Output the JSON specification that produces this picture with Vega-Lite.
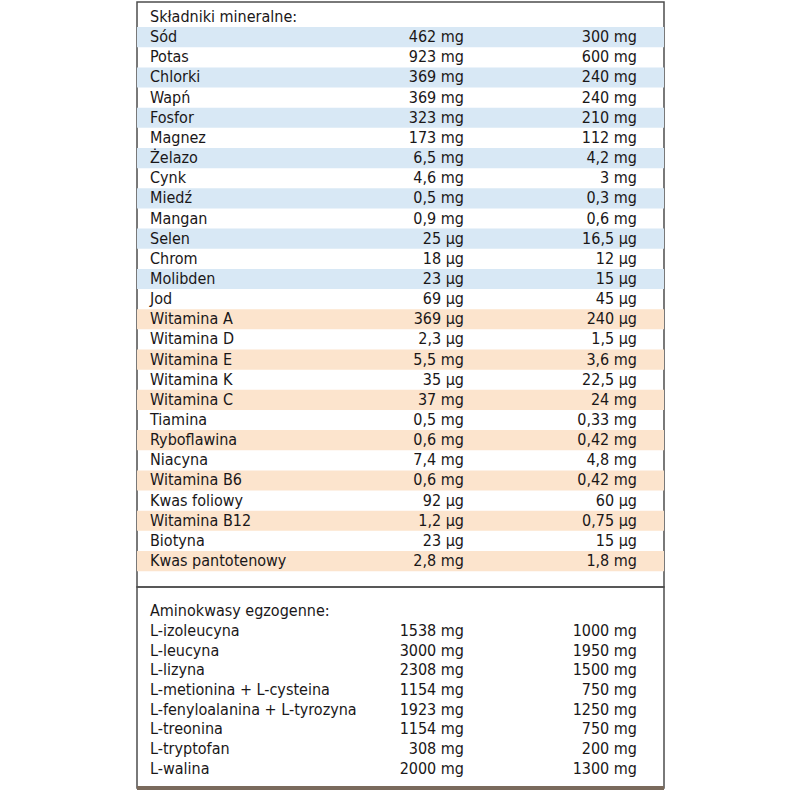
{
  "$schema": "https://vega.github.io/schema/vega-lite/v6.json",
  "padding": {"left": 134, "top": 1, "right": 0, "bottom": 0},
  "background": "white",
  "spacing": 0,
  "bounds": "flush",
  "config": {
    "view": {"stroke": "#4d4d4d", "strokeWidth": 1.5},
    "concat": {"spacing": 0},
    "text": {"font": "DejaVu Sans Condensed, DejaVu Sans, sans-serif", "fontSize": 16, "fill": "#1a1718", "baseline": "middle"}
  },
  "datasets": {
    "top": [
      {"name": "Składniki mineralne:", "group": "header", "c1": "", "c2": ""},
      {"name": "Sód", "group": "mineral", "c1": "462 mg", "c2": "300 mg"},
      {"name": "Potas", "group": "mineral", "c1": "923 mg", "c2": "600 mg"},
      {"name": "Chlorki", "group": "mineral", "c1": "369 mg", "c2": "240 mg"},
      {"name": "Wapń", "group": "mineral", "c1": "369 mg", "c2": "240 mg"},
      {"name": "Fosfor", "group": "mineral", "c1": "323 mg", "c2": "210 mg"},
      {"name": "Magnez", "group": "mineral", "c1": "173 mg", "c2": "112 mg"},
      {"name": "Żelazo", "group": "mineral", "c1": "6,5 mg", "c2": "4,2 mg"},
      {"name": "Cynk", "group": "mineral", "c1": "4,6 mg", "c2": "3 mg"},
      {"name": "Miedź", "group": "mineral", "c1": "0,5 mg", "c2": "0,3 mg"},
      {"name": "Mangan", "group": "mineral", "c1": "0,9 mg", "c2": "0,6 mg"},
      {"name": "Selen", "group": "mineral", "c1": "25 µg", "c2": "16,5 µg"},
      {"name": "Chrom", "group": "mineral", "c1": "18 µg", "c2": "12 µg"},
      {"name": "Molibden", "group": "mineral", "c1": "23 µg", "c2": "15 µg"},
      {"name": "Jod", "group": "mineral", "c1": "69 µg", "c2": "45 µg"},
      {"name": "Witamina A", "group": "vitamin", "c1": "369 µg", "c2": "240 µg"},
      {"name": "Witamina D", "group": "vitamin", "c1": "2,3 µg", "c2": "1,5 µg"},
      {"name": "Witamina E", "group": "vitamin", "c1": "5,5 mg", "c2": "3,6 mg"},
      {"name": "Witamina K", "group": "vitamin", "c1": "35 µg", "c2": "22,5 µg"},
      {"name": "Witamina C", "group": "vitamin", "c1": "37 mg", "c2": "24 mg"},
      {"name": "Tiamina", "group": "vitamin", "c1": "0,5 mg", "c2": "0,33 mg"},
      {"name": "Ryboflawina", "group": "vitamin", "c1": "0,6 mg", "c2": "0,42 mg"},
      {"name": "Niacyna", "group": "vitamin", "c1": "7,4 mg", "c2": "4,8 mg"},
      {"name": "Witamina B6", "group": "vitamin", "c1": "0,6 mg", "c2": "0,42 mg"},
      {"name": "Kwas foliowy", "group": "vitamin", "c1": "92 µg", "c2": "60 µg"},
      {"name": "Witamina B12", "group": "vitamin", "c1": "1,2 µg", "c2": "0,75 µg"},
      {"name": "Biotyna", "group": "vitamin", "c1": "23 µg", "c2": "15 µg"},
      {"name": "Kwas pantotenowy", "group": "vitamin", "c1": "2,8 mg", "c2": "1,8 mg"}
    ],
    "bottom": [
      {"name": "Aminokwasy egzogenne:", "group": "header", "c1": "", "c2": ""},
      {"name": "L-izoleucyna", "group": "amino", "c1": "1538 mg", "c2": "1000 mg"},
      {"name": "L-leucyna", "group": "amino", "c1": "3000 mg", "c2": "1950 mg"},
      {"name": "L-lizyna", "group": "amino", "c1": "2308 mg", "c2": "1500 mg"},
      {"name": "L-metionina + L-cysteina", "group": "amino", "c1": "1154 mg", "c2": "750 mg"},
      {"name": "L-fenyloalanina + L-tyrozyna", "group": "amino", "c1": "1923 mg", "c2": "1250 mg"},
      {"name": "L-treonina", "group": "amino", "c1": "1154 mg", "c2": "750 mg"},
      {"name": "L-tryptofan", "group": "amino", "c1": "308 mg", "c2": "200 mg"},
      {"name": "L-walina", "group": "amino", "c1": "2000 mg", "c2": "1300 mg"}
    ]
  },
  "vconcat": [
    {
      "width": 527,
      "height": 585,
      "data": {"name": "top"},
      "transform": [{"window": [{"op": "row_number", "as": "rn"}]}],
      "encoding": {
        "y": {"field": "name", "type": "nominal", "sort": null, "axis": null,
              "scale": {"type": "band", "paddingInner": 0, "paddingOuter": 0.516, "align": 0.237}}
      },
      "layer": [
        {
          "mark": {"type": "rect", "strokeWidth": 0},
          "encoding": {
            "fill": {
              "condition": {"test": "datum.rn % 2 == 1", "value": "rgba(0,0,0,0)"},
              "field": "group", "type": "nominal", "legend": null,
              "scale": {"domain": ["header", "mineral", "vitamin"], "range": ["rgba(0,0,0,0)", "#d8e8f5", "#fce4cd"]}
            }
          }
        },
        {
          "mark": {"type": "text", "align": "left"},
          "encoding": {
            "x": {"datum": "name", "type": "nominal", "axis": null, "bandPosition": 0,
                  "scale": {"type": "band", "domain": ["name", "c1", "c2"], "paddingInner": 0.185, "paddingOuter": 0.1156, "align": 0.325}},
            "text": {"field": "name"}
          }
        },
        {
          "transform": [{"fold": ["c1", "c2"]}],
          "mark": {"type": "text", "align": "right"},
          "encoding": {
            "x": {"field": "key", "type": "nominal", "axis": null, "bandPosition": 1},
            "text": {"field": "value"}
          }
        }
      ]
    },
    {
      "width": 527,
      "height": 201,
      "data": {"name": "bottom"},
      "encoding": {
        "y": {"field": "name", "type": "nominal", "sort": null, "axis": null,
              "scale": {"type": "band", "paddingInner": 0, "paddingOuter": 0.589, "align": 0.6075}}
      },
      "layer": [
        {
          "mark": {"type": "text", "align": "left"},
          "encoding": {
            "x": {"datum": "name", "type": "nominal", "axis": null, "bandPosition": 0,
                  "scale": {"type": "band", "domain": ["name", "c1", "c2"], "paddingInner": 0.185, "paddingOuter": 0.1156, "align": 0.325}},
            "text": {"field": "name"}
          }
        },
        {
          "transform": [{"fold": ["c1", "c2"]}],
          "mark": {"type": "text", "align": "right"},
          "encoding": {
            "x": {"field": "key", "type": "nominal", "axis": null, "bandPosition": 1},
            "text": {"field": "value"}
          }
        },
        {
          "mark": {"type": "rule", "color": "#7a6a5c", "strokeWidth": 3},
          "encoding": {"y": {"value": "height"}}
        }
      ]
    }
  ]
}
